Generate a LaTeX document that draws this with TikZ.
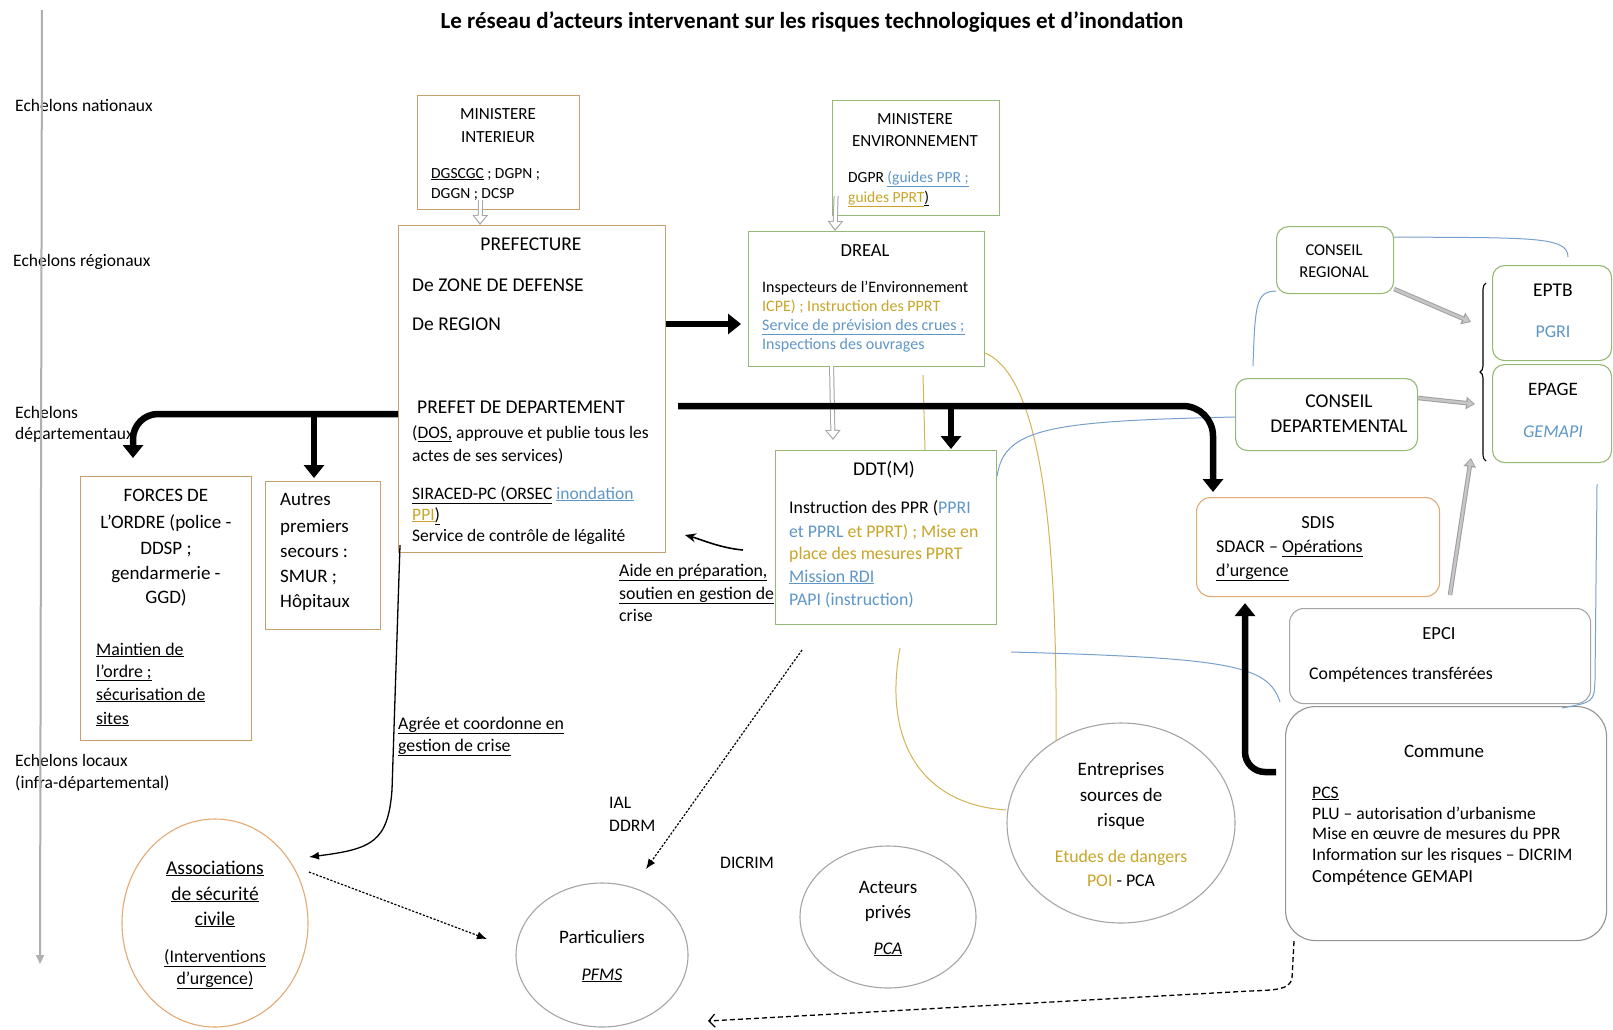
\documentclass[tikz,border=0pt]{standalone}
\usepackage{fontspec}
\setmainfont{Carlito}
\usetikzlibrary{arrows.meta,decorations.pathreplacing,calc,shapes.geometric}
\definecolor{tanc}{RGB}{200,160,110}
\definecolor{greenc}{RGB}{150,185,115}
\definecolor{orangec}{RGB}{228,170,115}
\definecolor{grayc}{RGB}{165,165,165}
\definecolor{bluet}{RGB}{95,150,200}
\definecolor{yellowt}{RGB}{200,165,40}
\definecolor{bluel}{RGB}{120,160,205}
\definecolor{yellowl}{RGB}{210,180,85}
\definecolor{axisc}{RGB}{175,175,175}
\definecolor{hollowc}{RGB}{165,165,165}
\begin{document}
\begin{tikzpicture}[x=1pt,y=-1pt,
  L/.style={inner sep=0pt,anchor=base west},
  C/.style={inner sep=0pt,anchor=base},
  fs/.style={font=\fontsize{#1}{#1}\selectfont},
  boxa/.style={draw,inner sep=0pt,anchor=north west,line width=1.1pt},
  rbox/.style={boxa,rounded corners=12pt},
  ell/.style={draw,ellipse,inner sep=0pt,line width=1.1pt},
  thk/.style={line width=6.5pt,-{Triangle[length=13pt,width=20pt]}},
  hollowa/.style={draw=hollowc,line width=5pt,-{Triangle[length=10pt,width=15pt]},
     postaction={draw=white,line width=3pt,shorten >=2pt,-{Triangle[length=7pt,width=11pt]}}},
  grayarrow/.style={draw=gray!75,line width=4.5pt,-{Triangle[length=9pt,width=12pt]},
     postaction={draw=gray!45,line width=2.5pt,shorten >=1.6pt,-{Triangle[length=6pt,width=8pt]}}},
  thinb/.style={line width=1.3pt},
  dotted1/.style={line width=1.2pt,dash pattern=on 2.2pt off 1.6pt},
  blue1/.style={draw=bluel,line width=1pt},
  yel1/.style={draw=yellowl,line width=1pt}
]
\useasboundingbox (0,0) rectangle (1613,1029);
\fill[white] (0,0) rectangle (1613,1029);

% title
\node[C,font=\fontsize{23}{27}\selectfont\bfseries] (title) at (812,28) {Le réseau d’acteurs intervenant sur les risques technologiques et d’inondation};

% level labels
\node[L,fs=17.5] (lv1) at (15,111) {Echelons nationaux};
\node[L,fs=17.5] (lv2) at (13,266) {Echelons régionaux};
\node[L,fs=17.5] (lv3a) at (15,418) {Echelons};
\node[L,fs=17.5] (lv3b) at (15,439) {départementaux};
\node[L,fs=17.5] (lv4a) at (15,766) {Echelons locaux};
\node[L,fs=17.5] (lv4b) at (15,788) {(infra-départemental)};
\coordinate (axtop) at (42,10);
\coordinate (axbot) at (40,964);
\draw[draw=axisc,line width=2pt,-{Triangle[length=9pt,width=8pt]}] (axtop) -- (axbot);

% boxes
\node[boxa,draw=tanc,minimum width=162pt,minimum height=114pt] (mi) at (417,95) {};
\node[boxa,draw=greenc,minimum width=167pt,minimum height=115pt] (me) at (832,100) {};
\node[boxa,draw=tanc,minimum width=267pt,minimum height=327pt] (pref) at (398,225) {};
\node[boxa,draw=greenc,minimum width=236pt,minimum height=135pt] (dreal) at (748,231) {};
\node[boxa,draw=greenc,minimum width=221pt,minimum height=174pt] (ddt) at (775,450) {};
\node[boxa,draw=tanc,minimum width=171pt,minimum height=264pt] (forces) at (80,476) {};
\node[boxa,draw=tanc,minimum width=115pt,minimum height=148pt] (autres) at (265,481) {};
\node[rbox,draw=greenc,minimum width=117pt,minimum height=67pt] (cr) at (1276,226) {};
\node[rbox,draw=greenc,minimum width=182pt,minimum height=72pt] (cd) at (1235,378) {};
\node[rbox,draw=greenc,minimum width=119pt,minimum height=95pt] (eptb) at (1492,265) {};
\node[rbox,draw=greenc,minimum width=119pt,minimum height=98pt] (epage) at (1492,364) {};
\node[rbox,draw=orangec,rounded corners=14pt,minimum width=243pt,minimum height=99pt] (sdis) at (1196,497) {};
\node[rbox,draw=grayc,rounded corners=14pt,minimum width=301pt,minimum height=95pt] (epci) at (1289,608) {};
\node[rbox,draw=gray!85,rounded corners=30pt,minimum width=321pt,minimum height=234pt] (commune) at (1285,706) {};

% ellipses
\node[ell,draw=orangec,minimum width=186pt,minimum height=208pt] (assoc) at (215,923) {};
\node[ell,draw=grayc,minimum width=172pt,minimum height=144pt] (partic) at (602,955) {};
\node[ell,draw=grayc,minimum width=176pt,minimum height=142pt] (acteurs) at (888,917) {};
\node[ell,draw=grayc,minimum width=228pt,minimum height=200pt] (entr) at (1121,823) {};

% texts: ministere interieur
\node[C,fs=17] (mi1) at (498,119) {MINISTERE};
\node[C,fs=17] (mi2) at (498,142) {INTERIEUR};
\node[L,fs=15.5] (mi3) at (431,178) {\underline{DGSCGC} ; DGPN ;};
\node[L,fs=15.5] (mi4) at (431,198) {DGGN ; DCSP};
% ministere environnement
\node[C,fs=17] (me1) at (915,124) {MINISTERE};
\node[C,fs=17] (me2) at (915,146) {ENVIRONNEMENT};
\node[L,fs=15.5] (me3) at (848,182) {DGPR \textcolor{bluet}{\underline{(guides PPR ;}}};
\node[L,fs=15.5] (me4) at (848,202) {\textcolor{yellowt}{\underline{guides PPRT}}\underline{)}};
% prefecture
\node[C,fs=19.5] (p1) at (531,250) {PREFECTURE};
\node[L,fs=19.5] (p2) at (412,291) {De ZONE DE DEFENSE};
\node[L,fs=19.5] (p3) at (412,330) {De REGION};
\node[L,fs=19.5] (p4) at (417,413) {PREFET DE DEPARTEMENT};
\node[L,fs=17.5] (p5) at (412,438) {(\underline{DOS,} approuve et publie tous les};
\node[L,fs=17.5] (p6) at (412,461) {actes de ses services)};
\node[L,fs=17.5] (p7) at (412,499) {\underline{SIRACED-PC (ORSEC} \textcolor{bluet}{\underline{inondation}}};
\node[L,fs=17.5] (p8) at (412,520) {\textcolor{yellowt}{\underline{PPI}}\underline{)}};
\node[L,fs=17.5] (p9) at (412,541) {Service de contrôle de légalité};
% dreal
\node[C,fs=18.5] (d1) at (865,256) {DREAL};
\node[L,fs=16] (d2) at (762,292) {Inspecteurs de l’Environnement};
\node[L,fs=16] (d3) at (762,311) {\textcolor{yellowt}{ICPE) ; Instruction des PPRT}};
\node[L,fs=16] (d4) at (762,330) {\textcolor{bluet}{\underline{Service de prévision des crues ;}}};
\node[L,fs=16] (d5) at (762,349) {\textcolor{bluet}{Inspections des ouvrages}};
% ddt
\node[C,fs=19.5] (t1) at (884,475) {DDT(M)};
\node[L,fs=17.8] (t2) at (789,513) {Instruction des PPR (\textcolor{bluet}{PPRI}};
\node[L,fs=17.8] (t3) at (789,537) {\textcolor{bluet}{et PPRL} \textcolor{yellowt}{et PPRT) ; Mise en}};
\node[L,fs=17.8] (t4) at (789,559) {\textcolor{yellowt}{place des mesures PPRT}};
\node[L,fs=17.8] (t5) at (789,582) {\textcolor{bluet}{\underline{Mission RDI}}};
\node[L,fs=17.8] (t6) at (789,605) {\textcolor{bluet}{PAPI (instruction)}};
% forces
\node[C,fs=19] (fo1) at (166,501) {FORCES DE};
\node[C,fs=19] (fo2) at (166,528) {L’ORDRE (police -};
\node[C,fs=19] (fo3) at (166,554) {DDSP ;};
\node[C,fs=19] (fo4) at (166,579) {gendarmerie -};
\node[C,fs=19] (fo5) at (166,603) {GGD)};
\node[L,fs=17.8] (fo6) at (96,655) {\underline{Maintien de}};
\node[L,fs=17.8] (fo7) at (96,677) {\underline{l’ordre ;}};
\node[L,fs=17.8] (fo8) at (96,700) {\underline{sécurisation de}};
\node[L,fs=17.8] (fo9) at (96,724) {\underline{sites}};
% autres
\node[L,fs=19] (a1) at (280,505) {Autres};
\node[L,fs=19] (a2) at (280,532) {premiers};
\node[L,fs=19] (a3) at (280,557) {secours :};
\node[L,fs=19] (a4) at (280,582) {SMUR ;};
\node[L,fs=19] (a5) at (280,607) {Hôpitaux};
% conseils
\node[C,fs=16.5] (cr1) at (1334,255) {CONSEIL};
\node[C,fs=16.5] (cr2) at (1334,277) {REGIONAL};
\node[C,fs=19.5] (cd1) at (1339,407) {CONSEIL};
\node[C,fs=19.5] (cd2) at (1339,432) {DEPARTEMENTAL};
% eptb epage
\node[C,fs=19.5] (e1) at (1553,296) {EPTB};
\node[C,fs=18] (e2) at (1553,337) {\textcolor{bluet}{PGRI}};
\node[C,fs=19] (e3) at (1553,395) {EPAGE};
\node[C,fs=18] (e4) at (1553,437) {\textcolor{bluet}{\itshape GEMAPI}};
\draw[line width=1.1pt,decorate,decoration={brace,amplitude=6pt}] (1486,461) -- (1486,283);
\coordinate (br1) at (1471,322);
\coordinate (br2) at (1475,404);
\coordinate (br3) at (1471,458);
% sdis
\node[C,fs=18.5] (s1) at (1318,528) {SDIS};
\node[L,fs=18] (s2) at (1216,552) {SDACR – \underline{Opérations}};
\node[L,fs=18] (s3) at (1216,576) {\underline{d’urgence}};
% epci
\node[C,fs=18.5] (ep1) at (1439,639) {EPCI};
\node[L,fs=17.8] (ep2) at (1309,679) {Compétences transférées};
% commune
\node[C,fs=19] (c1) at (1444,757) {Commune};
\node[L,fs=17.6] (c2) at (1312,798) {\underline{PCS}};
\node[L,fs=17.6] (c3) at (1312,819) {PLU – autorisation d’urbanisme};
\node[L,fs=17.6] (c4) at (1312,839) {Mise en œuvre de mesures du PPR};
\node[L,fs=17.6] (c5) at (1312,860) {Information sur les risques – DICRIM};
\node[L,fs=18.5] (c6) at (1312,882) {Compétence GEMAPI};
% ellipse texts
\node[C,fs=19.5] (as1) at (215,874) {\underline{Associations}};
\node[C,fs=19.5] (as2) at (215,900) {\underline{de sécurité}};
\node[C,fs=19.5] (as3) at (215,925) {\underline{civile}};
\node[C,fs=17.8] (as4) at (215,962) {\underline{(Interventions}};
\node[C,fs=17.8] (as5) at (215,984) {\underline{d’urgence)}};
\node[C,fs=19] (pa1) at (602,943) {Particuliers};
\node[C,fs=17.8] (pa2) at (602,980) {\underline{\itshape PFMS}};
\node[C,fs=19] (ac1) at (888,893) {Acteurs};
\node[C,fs=19] (ac2) at (888,918) {privés};
\node[C,fs=17.8] (ac3) at (888,954) {\underline{\itshape PCA}};
\node[C,fs=19] (en1) at (1121,775) {Entreprises};
\node[C,fs=19] (en2) at (1121,801) {sources de};
\node[C,fs=19] (en3) at (1121,826) {risque};
\node[C,fs=17.8] (en4) at (1121,862) {\textcolor{yellowt}{Etudes de dangers}};
\node[C,fs=17.8] (en5) at (1121,886) {\textcolor{yellowt}{POI} - PCA};

% free labels
\node[L,fs=17.8] (lb1) at (619,576) {\underline{Aide en préparation,}};
\node[L,fs=17.8] (lb2) at (619,599) {\underline{soutien en gestion de}};
\node[L,fs=17.8] (lb3) at (619,621) {crise};
\node[L,fs=17.8] (lb4) at (398,729) {\underline{Agrée et coordonne en}};
\node[L,fs=17.8] (lb5) at (398,751) {\underline{gestion de crise}};
\node[L,fs=17.6] (lb6) at (609,808) {IAL};
\node[L,fs=17.6] (lb7) at (609,831) {DDRM};
\node[L,fs=17.6] (lb8) at (720,868) {DICRIM};

% thin colored lines
\draw[yel1] (923,375) -- (ddt.north -| 925,0);
\draw[yel1] (dreal.east |- 0,353) .. controls (1030,372) and (1058,480) .. (1056,741);
\draw[yel1] (900,648) .. controls (882,745) and (925,805) .. (entr.west |- 0,810);
\draw[blue1] (cr.east |- 0,237) .. controls (1530,238) and (1568,236) .. (1568,257);
\draw[blue1] (1253,366) .. controls (1255,300) and (1257,292) .. (cr.west |- 0,291);
\draw[blue1] (cd.west |- 0,417) .. controls (1050,421) and (1004,428) .. (ddt.east |- 0,476);
\draw[blue1] (1011,652) .. controls (1230,658) and (1268,665) .. (1280,702);
\draw[blue1] (1597,484) -- (1595,680) .. controls (1594,702) .. (1562,708);

% hollow arrows
\draw[hollowa] ($(mi.south)+(-18,-10)$) -- (pref.north -| 480,0);
\draw[hollowa] ($(me.south)+(-80,-20)$) -- (dreal.north -| 835,0);
\draw[hollowa] ($(dreal.south)+(-35,-1)$) -- ($(ddt.north)+(-53,-10)$);

% thick black arrows
\draw[thk,shorten >=7pt] (pref.east |- 0,324) -- (dreal.west |- 0,324);
\coordinate (rs) at ($(pref.east |- 0,406)+(12,0)$);
\coordinate (rj) at (951,406);
\draw[line width=6.5pt,rounded corners=30pt,-{Triangle[length=13pt,width=20pt]},shorten >=5pt] (rs) -- (1213,406) -- (sdis.north -| 1213,0);
\draw[thk,shorten >=1pt] (rj) -- (ddt.north -| 951,0);
\coordinate (lj) at (314,414);
\draw[line width=6.5pt,rounded corners=25pt,-{Triangle[length=13pt,width=20pt]},shorten >=18pt] (pref.west |- 0,414) -- (133,414) -- (forces.north -| 133,0);
\draw[thk,shorten >=3pt] (lj) -- (autres.north -| 314,0);
\draw[line width=6.5pt,rounded corners=20pt,-{Triangle[length=13pt,width=20pt]},shorten >=6pt] ($(commune.west |- 0,772)+(-9,0)$) -- (1245,772) -- (sdis.south -| 1245,0);

% gray arrows to brace
\draw[grayarrow] (cr.east |- 0,289) -- (br1);
\draw[grayarrow] (cd.east |- 0,398) -- (br2);
\draw[grayarrow] ($(epci.north -| 1450,0)+(0,-13)$) -- (br3);

% thin black connectors
\coordinate (ai0) at (743,550);
\coordinate (ai1) at (685,535);
\draw[line width=1.6pt,-{Stealth[length=11pt,width=9pt]}] (ai0) .. controls (720,548) and (700,539) .. (ai1);
\coordinate (ag0) at (400,545);
\coordinate (ag1) at (309,857);
\draw[thinb,-{Latex[length=10pt,width=8pt]}] (ag0) -- (392,790) .. controls (388,842) and (372,849) .. (ag1);
\coordinate (dd0) at (802,650);
\coordinate (dd1) at (646,869);
\draw[dotted1,-{Latex[length=10pt,width=8pt]}] (dd0) -- (dd1);
\coordinate (as0) at (309,872);
\coordinate (as1e) at (487,939);
\draw[dotted1,-{Latex[length=10pt,width=8pt]}] (as0) -- (as1e);
\coordinate (cm1) at (708,1021);
\draw[line width=1.3pt,dash pattern=on 5pt off 3pt,-{Straight Barb[length=6pt,width=13pt]}] (commune.south -| 1294,0) -- (1292,978) .. controls (1290,990) and (1275,990) .. (1250,991) -- (cm1);
\end{tikzpicture}
\end{document}
